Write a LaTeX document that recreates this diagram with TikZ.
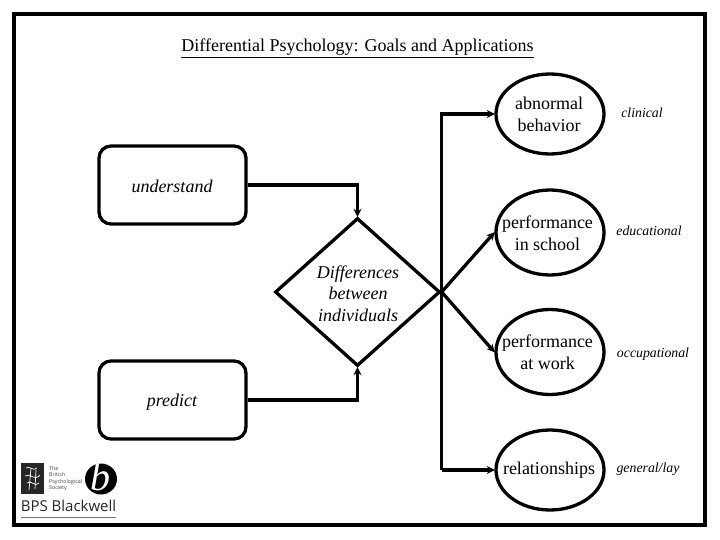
\documentclass[tikz,border=0pt]{standalone}
\usepackage{fontspec}
\setmainfont{Liberation Serif}
\newfontfamily\logofont{Open Sans}
\usetikzlibrary{shapes.geometric,arrows.meta}
\tikzset{
  every node/.style={font=\fontsize{18}{22}\selectfont, align=center, inner sep=0pt},
  rbox/.style={draw, line width=3.3pt, rounded corners=12pt, minimum width=147pt, minimum height=78pt},
  oval/.style={draw, line width=3.3pt, ellipse, minimum width=108pt},
  dia/.style={draw, line width=3.3pt, diamond, minimum width=165pt, minimum height=148pt},
  conn/.style={line width=3.3pt, -{Stealth[length=8pt,width=8pt]}, shorten >=-0.5pt},
  plain/.style={line width=3.3pt},
  role/.style={font=\fontsize{13.8}{16}\selectfont\itshape},
  lead/.style={font=\fontsize{18}{21.5}\selectfont\itshape},
  scrib/.style={white, line width=0.7pt}
}
\begin{document}
\begin{tikzpicture}[x=1pt,y=-1pt]
\useasboundingbox (0,0) rectangle (720,540);
\node[draw, line width=3.3pt, minimum width=691pt, minimum height=511pt] (frame) at (359.5,269.5) {};
\node (title) at (357.5,48.5) {\underline{Differential Psychology: Goals and Applications}};
\node[rbox] (understand) at (172.5,185) {};
\node[lead] (understandT) at (172,186.5) {understand};
\node[rbox] (predict) at (172.5,400) {};
\node[lead] (predictT) at (172,402) {predict};
\node[dia] (diff) at (357.5,292) {};
\node[lead] (diffT) at (358,293.5) {Differences\\between\\individuals};
\node[oval, minimum height=80pt] (abn) at (550,114) {};
\node[oval, minimum height=85pt] (school) at (550,232.5) {};
\node[oval, minimum height=85pt] (work) at (550,352) {};
\node[oval, minimum height=80pt] (rel) at (550,470) {};
\node (abnT) at (549,114) {abnormal\\behavior};
\node (schoolT) at (547.5,233) {performance\\in school};
\node (workT) at (547.5,352) {performance\\at work};
\node (relT) at (549,470) {relationships};
\node[role] (l1) at (642,113) {clinical};
\node[role] (l2) at (649,231) {educational};
\node[role] (l3) at (653,354) {occupational};
\node[role] (l4) at (648,469) {general/lay};
\coordinate (hub) at (diff.east);
\draw[conn] (understand.east) -- (diff.north |- understand.east) -- (diff.north);
\draw[conn] (predict.east) -- (diff.south |- predict.east) -- (diff.south);
\draw[plain] (hub) -- (hub |- rel.west);
\draw[conn] (hub) -- (hub |- abn.west) -- (abn.west);
\draw[conn] (hub |- rel.west) -- (rel.west);
\draw[conn] (hub) -- (school.west);
\draw[conn] (hub) -- (work.west);
% logo
\node[fill=black!85, minimum width=23pt, minimum height=31pt] (crest) at (32.5,478.5) {};
\draw[scrib] (26,468) .. controls (30,465) and (33,472) .. (37,468) (25,476) .. controls (30,472) and (34,482) .. (40,475) (27,483) .. controls (31,479) and (35,488) .. (39,483) (31,468) -- (29,490) (36,470) -- (35,489);
\node[font=\fontsize{5.3}{6.4}\logofont, align=left, text=black!75, anchor=west] (bps) at (49,478.5) {The\\British\\Psychological\\Society};
\node[fill=black, ellipse, minimum width=32pt, minimum height=31pt] (bmark) at (101,479) {};
\node[font=\fontsize{40}{40}\selectfont\itshape, text=white] (bletter) at (100,477) {b};
\node[font=\fontsize{15}{18}\logofont, text=black!85] (brand) at (68.5,506) {BPS Blackwell};
\coordinate (ruleA) at (21,517);
\coordinate (ruleB) at (116,517);
\draw[black!55, line width=0.8pt] (ruleA) -- (ruleB);
\end{tikzpicture}
\end{document}
